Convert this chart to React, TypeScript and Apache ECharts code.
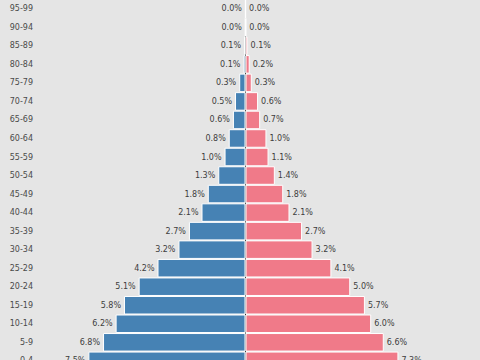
import React, { useEffect, useRef } from "react";
import * as echarts from "echarts";

const ageGroups = ["0-4","5-9","10-14","15-19","20-24","25-29","30-34","35-39","40-44","45-49","50-54","55-59","60-64","65-69","70-74","75-79","80-84","85-89","90-94","95-99"];
const male = [7.5,6.8,6.2,5.8,5.1,4.2,3.2,2.7,2.1,1.8,1.3,1.0,0.8,0.6,0.5,0.3,0.1,0.07,0.02,0.01];
const female = [7.3,6.6,6.0,5.7,5.0,4.1,3.2,2.7,2.1,1.8,1.4,1.1,1.0,0.7,0.6,0.3,0.2,0.1,0.03,0.01];

export default function App() {
  const ref = useRef<HTMLDivElement>(null);
  useEffect(() => {
    const chart = echarts.init(ref.current!, null, { renderer: "svg" });
    const labelStyle = { fontFamily: "DejaVu Sans", fontSize: 8, color: "#3d3d3d" };
    chart.setOption({
      animation: false,
      backgroundColor: "#e5e5e5",
      grid: { left: 36, width: 419, top: 19.5, height: 370.6 },
      xAxis: { type: "value", min: -10, max: 10, show: false },
      yAxis: {
        type: "category",
        data: ageGroups,
        axisLine: { show: true, lineStyle: { color: "#333", width: 1 } },
        axisTick: { show: false },
        axisLabel: { ...labelStyle, color: "#4a4a4a", margin: 3 },
      },
      series: [
        {
          type: "bar",
          name: "Male",
          data: male.map((v) => -v),
          barCategoryGap: "0%",
          barGap: "-100%",
          itemStyle: { color: "#4682b4", borderColor: "#fff", borderWidth: 1 },
          label: {
            show: true,
            position: "left",
            distance: 3,
            ...labelStyle,
            formatter: (p: any) => Math.abs(p.value).toFixed(1) + "%",
          },
        },
        {
          type: "bar",
          name: "Female",
          data: female,
          barCategoryGap: "0%",
          barGap: "-100%",
          itemStyle: { color: "#f07a89", borderColor: "#fff", borderWidth: 1 },
          label: {
            show: true,
            position: "right",
            distance: 3,
            ...labelStyle,
            formatter: (p: any) => Number(p.value).toFixed(1) + "%",
          },
        },
      ],
    });
    return () => chart.dispose();
  }, []);
  return (
    <div style={{ position: "fixed", left: 0, top: 0, width: 480, height: 360, overflow: "hidden", background: "#e5e5e5" }}>
      <div ref={ref} style={{ position: "absolute", left: 0, top: -20, width: 480, height: 400 }} />
    </div>
  );
}
